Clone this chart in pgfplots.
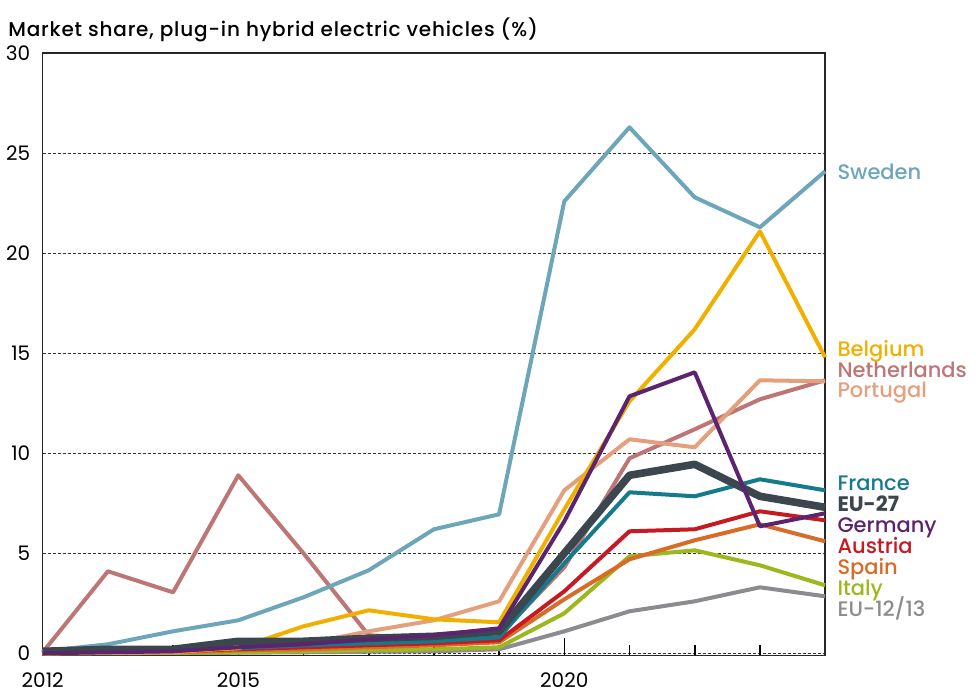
\documentclass[border=0pt]{standalone}
\usepackage{pgfplots}
\pgfplotsset{compat=1.18}
\usepackage{pgfplotstable}
\usepackage{fontspec}
\setmainfont{Poppins}
\newfontfamily\medfont{Poppins Medium}
\newfontfamily\titlefont{Poppins Medium}[LetterSpace=4]

\definecolor{csweden}{RGB}{108,166,184}
\definecolor{cbelgium}{RGB}{240,176,0}
\definecolor{cnether}{RGB}{190,117,118}
\definecolor{cportugal}{RGB}{228,160,124}
\definecolor{cfrance}{RGB}{20,122,140}
\definecolor{ceu}{RGB}{59,70,78}
\definecolor{cgermany}{RGB}{92,36,110}
\definecolor{caustria}{RGB}{198,26,34}
\definecolor{cspain}{RGB}{217,107,40}
\definecolor{citaly}{RGB}{157,183,30}
\definecolor{ceunew}{RGB}{140,140,144}

\tikzset{lab/.style={anchor=west, xshift=6pt, inner sep=0pt, text height=7.3pt, text depth=0pt,
                font=\medfont\fontsize{10.5}{12}\selectfont}}

% PHEV market share (%)
\pgfplotstableread{
year Sweden Belgium Netherlands Portugal France EU27 Germany Austria Spain Italy EU1213
2012 0.10 0.00 0.05 0.00 0.05 0.10 0.00 0.00 0.00 0.00 0.00
2013 0.45 0.05 4.10 0.02 0.10 0.20 0.05 0.05 0.02 0.01 0.01
2014 1.10 0.10 3.05 0.05 0.15 0.20 0.10 0.10 0.05 0.02 0.01
2015 1.65 0.25 8.90 0.30 0.25 0.60 0.30 0.20 0.15 0.05 0.03
2016 2.80 1.35 5.00 0.45 0.40 0.60 0.45 0.30 0.20 0.10 0.05
2017 4.15 2.15 0.90 1.10 0.50 0.75 0.70 0.40 0.30 0.15 0.08
2018 6.20 1.70 0.75 1.65 0.60 0.85 0.90 0.50 0.40 0.20 0.10
2019 6.95 1.55 0.90 2.60 0.80 1.10 1.25 0.65 0.55 0.30 0.20
2020 22.60 7.20 4.30 8.15 4.50 5.00 6.60 3.10 2.70 2.00 1.10
2021 26.30 12.60 9.75 10.70 8.05 8.90 12.85 6.10 4.70 4.85 2.10
2022 22.80 16.20 11.20 10.30 7.85 9.45 14.05 6.20 5.65 5.15 2.60
2023 21.30 21.10 12.70 13.65 8.70 7.85 6.35 7.10 6.45 4.40 3.30
2024 24.10 14.80 13.65 13.60 8.15 7.30 7.00 6.65 5.60 3.40 2.85
}\phev

\begin{document}
\begin{tikzpicture}
\path[use as bounding box] (-21.35pt,-18.35pt) rectangle (466.65pt,327.65pt);
\begin{axis}[
    at={(0,0)}, anchor=south west,
    scale only axis, width=391.2pt, height=301pt,
    xmin=2012, xmax=2024, ymin=-0.1, ymax=30,
    clip=false,
    axis line style={line width=0.8pt, black!85},
    xtick={2012,2015,2020},
    minor xtick={2013,2014,2016,2017,2018,2019,2021,2022,2023,2024},
    xtick pos=bottom, ytick pos=left,
    tick align=inside,
    major tick length=8.5pt, minor tick length=5pt,
    tick style={line width=0.8pt, black},
    ytick={0,5,...,30}, ytick style={draw=none},
    ymajorgrids,
    major grid style={dash pattern=on 1.5pt off 1pt, line width=0.5pt, black!80},
    /pgf/number format/assume math mode=true,
    xticklabel style={/pgf/number format/1000 sep={}, yshift=-5pt},
    yticklabel style={xshift=-2.7pt},
    ticklabel style={font=\fontsize{10}{12}\selectfont},
    every axis plot/.append style={line width=2pt, line join=round, no markers},
]
\addplot[ceunew]    table[x=year, y=EU1213]      {\phev};
\addplot[citaly]    table[x=year, y=Italy]       {\phev};
\addplot[cspain]    table[x=year, y=Spain]       {\phev};
\addplot[caustria]  table[x=year, y=Austria]     {\phev};
\addplot[cnether]   table[x=year, y=Netherlands] {\phev};
\addplot[cportugal] table[x=year, y=Portugal]    {\phev};
\addplot[cfrance]   table[x=year, y=France]      {\phev};
\addplot[cbelgium]  table[x=year, y=Belgium]     {\phev};
\addplot[csweden]   table[x=year, y=Sweden]      {\phev};
\addplot[ceu, line width=3.8pt] table[x=year, y=EU27] {\phev};
\addplot[cgermany]  table[x=year, y=Germany]     {\phev};

\node[lab, csweden]   at (axis cs:2024,24.07) {Sweden};
\node[lab, cbelgium]  at (axis cs:2024,15.2)  {Belgium};
\node[lab, cnether]   at (axis cs:2024,14.17) {Netherlands};
\node[lab, cportugal] at (axis cs:2024,13.17) {Portugal};
\node[lab, cfrance]   at (axis cs:2024,8.5)   {France};
\node[lab, ceu, font=\bfseries\fontsize{10.5}{12}\selectfont] at (axis cs:2024,7.45) {EU-27};
\node[lab, cgermany]  at (axis cs:2024,6.42)  {Germany};
\node[lab, caustria]  at (axis cs:2024,5.35)  {Austria};
\node[lab, cspain]    at (axis cs:2024,4.33)  {Spain};
\node[lab, citaly]    at (axis cs:2024,3.25)  {Italy};
\node[lab, ceunew]    at (axis cs:2024,2.22)  {EU-12/13};
\end{axis}
\node[anchor=west, inner sep=0pt, font=\titlefont\fontsize{10}{12}\selectfont]
  at (-17.35pt,312.6pt) {Market share, plug-in hybrid electric vehicles (\%)};
\end{tikzpicture}
\end{document}
